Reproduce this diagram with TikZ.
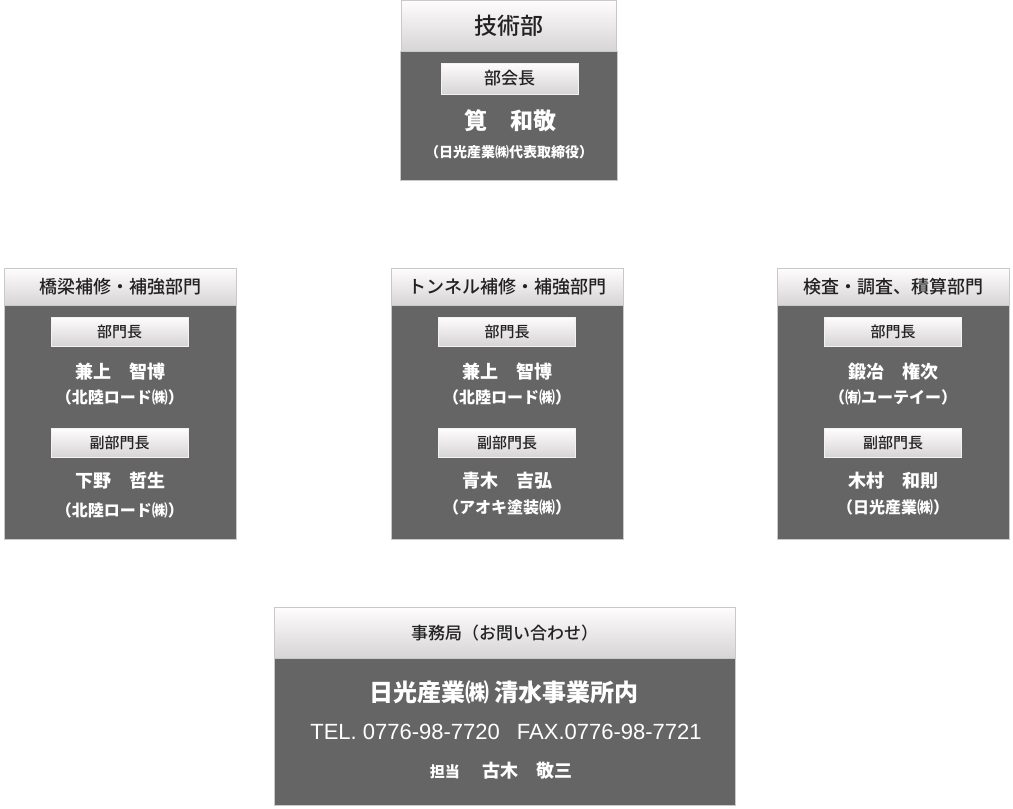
\documentclass[tikz,border=0pt]{standalone}
\usepackage{fontspec}
\setmainfont{Noto Sans CJK JP}[Kerning=Off]
\newfontfamily\medfont{Noto Sans CJK JP Medium}[Kerning=Off]
\newfontfamily\latinfont{Liberation Sans}
\usetikzlibrary{positioning}

\definecolor{bodygray}{HTML}{656565}
\definecolor{headtop}{HTML}{FEFCFC}
\definecolor{headbot}{HTML}{D6D4D4}
\definecolor{edgegray}{HTML}{C9C9C9}
\definecolor{inkdark}{HTML}{222222}

\begin{document}
\begin{tikzpicture}[x=1pt, y=-1pt,
  hdr/.style={draw=edgegray, line width=1pt, top color=headtop, bottom color=headbot, text=inkdark,
    inner sep=0pt, anchor=north},
  panel/.style={draw=edgegray, line width=1pt, fill=bodygray, inner sep=0pt, anchor=north},
  tagbox/.style={draw=white!90!gray, line width=1pt, top color=headtop, bottom color=headbot, text=inkdark,
    minimum width=137pt, minimum height=29pt, inner sep=0pt, font=\medfont\fontsize{15}{15}\selectfont},
  person/.style={text=white, font=\bfseries\fontsize{18}{18}\selectfont},
  firm/.style={text=white, font=\bfseries\fontsize{16}{16}\selectfont}]
\useasboundingbox (0,0) rectangle (1013,809);

% top: 技術部
\node[panel, minimum width=217pt, minimum height=129pt] (topbody) at (508.5,51) {};
\node[hdr, minimum width=215pt, minimum height=51pt, font=\medfont\fontsize{23}{23}\selectfont] (tophead) at (509,0) {技術部};
\node[tagbox, minimum height=31pt, font=\medfont\fontsize{17}{17}\selectfont] (toptag) at (509.5,78.5) {部会長};
\node[person, font=\bfseries\fontsize{23}{23}\selectfont] (topname) at (510,121) {筧　和敬};
\node[firm, font=\bfseries\fontsize{14}{14}\selectfont] (topfirm) at (509,152) {（日光産業㈱代表取締役）};

% left: 橋梁
\node[panel, minimum width=232pt, minimum height=234pt] (leftbody) at (120,305) {};
\node[hdr, minimum width=232pt, minimum height=37pt, font=\medfont\fontsize{18}{18}\selectfont] (lefthead) at (120,268) {橋梁補修・補強部門};
\node[tagbox] (lefttag) at (119.5,331.5) {部門長};
\node[person] (leftname) at (120,372) {兼上　智博};
\node[firm] (leftfirm) at (120,397) {（北陸ロード㈱）};
\node[tagbox] (leftsubtag) at (119.5,443) {副部門長};
\node[person] (leftsubname) at (120,481) {下野　哲生};
\node[firm] (leftsubfirm) at (120,510) {（北陸ロード㈱）};

% middle: トンネル
\node[panel, minimum width=232pt, minimum height=234pt] (midbody) at (507,305) {};
\node[hdr, minimum width=232pt, minimum height=37pt, font=\medfont\fontsize{18}{18}\selectfont] (midhead) at (507,268) {トンネル補修・補強部門};
\node[tagbox] (midtag) at (507,331.5) {部門長};
\node[person] (midname) at (507,372) {兼上　智博};
\node[firm] (midfirm) at (507,397) {（北陸ロード㈱）};
\node[tagbox] (midsubtag) at (507,443) {副部門長};
\node[person] (midsubname) at (507,481) {青木　吉弘};
\node[firm] (midsubfirm) at (507,507) {（アオキ塗装㈱）};

% right: 検査
\node[panel, minimum width=232pt, minimum height=234pt] (rightbody) at (893,305) {};
\node[hdr, minimum width=232pt, minimum height=37pt, font=\medfont\fontsize{18}{18}\selectfont] (righthead) at (893,268) {検査・調査、積算部門};
\node[tagbox] (righttag) at (893,331.5) {部門長};
\node[person] (rightname) at (893,372) {鍛冶　権次};
\node[firm] (rightfirm) at (893,397) {（㈲ユーテイー）};
\node[tagbox] (rightsubtag) at (893,443) {副部門長};
\node[person] (rightsubname) at (893,481) {木村　和則};
\node[firm] (rightsubfirm) at (893,507) {（日光産業㈱）};

% bottom: 事務局
\node[panel, minimum width=461pt, minimum height=147pt] (officebody) at (504.5,658) {};
\node[hdr, minimum width=461pt, minimum height=51pt, font=\medfont\fontsize{17}{17}\selectfont] (officehead) at (504.5,607) {事務局（お問い合わせ）};
\node[person, font=\bfseries\fontsize{24}{24}\selectfont] (officename) at (504,692) {日光産業㈱ 清水事業所内};
\node[text=white, font=\latinfont\fontsize{22}{22}\selectfont] (officetel) at (506,732) {TEL. 0776-98-7720\hspace{17pt}FAX.0776-98-7721};
\node[person] (officestaff) at (501,771) {{\fontsize{15}{15}\selectfont 担当}　\ 古木　敬三};
\end{tikzpicture}
\end{document}
